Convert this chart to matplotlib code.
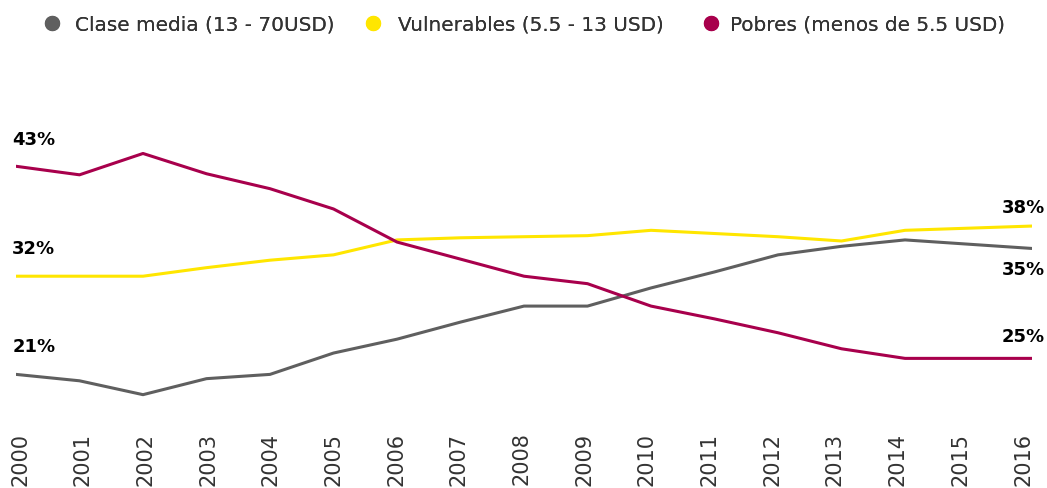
import matplotlib.pyplot as plt
from matplotlib.lines import Line2D

# datos (% de la poblacion)
years = list(range(2000, 2017))
clase_media = [23.5, 22.9, 21.6, 23.1, 23.5, 25.5, 26.8, 28.4, 29.9, 29.9,
               31.6, 33.1, 34.7, 35.5, 36.1, 35.7, 35.3]
vulnerables = [32.7, 32.7, 32.7, 33.5, 34.2, 34.7, 36.1, 36.3, 36.4, 36.5,
               37.0, 36.7, 36.4, 36.0, 37.0, 37.2, 37.4]
pobres = [43.0, 42.2, 44.2, 42.3, 40.9, 39.0, 35.9, 34.3, 32.7, 32.0,
          29.9, 28.7, 27.4, 25.9, 25.0, 25.0, 25.0]
labels_ini = ['21%', '32%', '43%']
labels_fin = ['35%', '38%', '25%']
nombres = ['Clase media (13 - 70USD)', 'Vulnerables (5.5 - 13 USD)',
           'Pobres (menos de 5.5 USD)']

c_gris = '#5f5f5f'
c_amar = '#ffe600'
c_rojo = '#a8004c'

W, H = 1047, 489
fig = plt.figure(figsize=(W / 100, H / 100), dpi=100)
ax = fig.add_axes([16 / W, 1 - 420 / H, (1032 - 16) / W, 300 / H])

ax.plot(years, clase_media, color=c_gris, lw=2.2)
ax.plot(years, vulnerables, color=c_amar, lw=2.2)
ax.plot(years, pobres, color=c_rojo, lw=2.2)

ax.set_xlim(2000, 2016)
ax.set_ylim(19.32, 47.43)
for s in ax.spines.values():
    s.set_visible(False)
ax.set_yticks([])
ax.set_xticks([])

# etiquetas de años (algo desplazadas respecto a los puntos, como en el original)
ax2 = ax.twiny()
ax2.set_xlim(1999.936, 2016.143)
ax2.xaxis.set_ticks_position('bottom')
ax2.xaxis.set_label_position('bottom')
for s in ax2.spines.values():
    s.set_visible(False)
ax2.set_xticks(years)
ax2.set_xticklabels([str(y) for y in years], rotation=90, fontsize=15,
                    color='#333333', family='DejaVu Sans')
ax2.tick_params(axis='x', length=0, pad=9)

# etiquetas de valores
lab_kw = dict(fontsize=13, fontweight='bold', color='black', family='DejaVu Sans')
ax.annotate(labels_ini[2], (2000, pobres[0]), xytext=(-4, 27), textcoords='offset pixels',
            ha='left', va='center', **lab_kw)
ax.annotate(labels_ini[1], (2000, vulnerables[0]), xytext=(-4, 28), textcoords='offset pixels',
            ha='left', va='center', **lab_kw)
ax.annotate(labels_ini[0], (2000, clase_media[0]), xytext=(-3, 28), textcoords='offset pixels',
            ha='left', va='center', **lab_kw)
ax.annotate(labels_fin[1], (2016, vulnerables[-1]), xytext=(13, 19), textcoords='offset pixels',
            ha='right', va='center', **lab_kw)
ax.annotate(labels_fin[0], (2016, clase_media[-1]), xytext=(13, -21), textcoords='offset pixels',
            ha='right', va='center', **lab_kw)
ax.annotate(labels_fin[2], (2016, pobres[-1]), xytext=(13, 22), textcoords='offset pixels',
            ha='right', va='center', **lab_kw)

# leyenda: una entrada por serie, colocada como en el original
dots_x = [52, 373, 711]
pads = [0.65, 0.75, 0.45]
for c, name, xd, pd in zip((c_gris, c_amar, c_rojo), nombres, dots_x, pads):
    h = Line2D([], [], marker='o', linestyle='none', color=c, markersize=10)
    leg = fig.legend([h], [name], loc='center left',
                     bbox_to_anchor=((xd - 20) / W, 1 - 25 / H),
                     frameon=False, borderpad=0, handlelength=1, handletextpad=pd,
                     prop={'family': 'DejaVu Sans', 'size': 14.4},
                     labelcolor='#333333')
    fig.add_artist(leg)

fig.savefig('out.png', dpi=100)
